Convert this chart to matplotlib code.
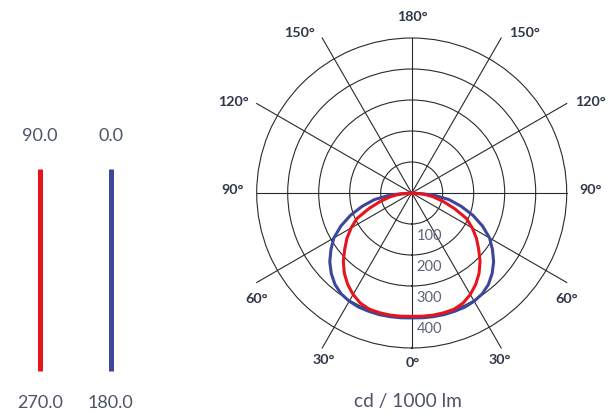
import numpy as np
import matplotlib
matplotlib.use("Agg")
import matplotlib.pyplot as plt
from matplotlib.lines import Line2D

# ---- data (cd / 1000 lm), gamma angle from nadir ----
gamma = [0, 5, 10, 15, 20, 25, 30, 35, 40, 45, 50, 55, 60, 65, 70, 75, 80, 85, 90]
c0_180 = [403, 404, 405, 406, 406, 406, 403, 397, 385, 367, 345, 318, 290, 252, 210, 165, 122, 68, 0]
c90_270 = [398, 399, 400, 400, 399, 392, 378, 360, 338, 312, 282, 255, 226, 195, 147, 105, 70, 38, 0]
r_ticks = [100, 200, 300, 400]
r_max = 500
angle_labels = ["180°", "150°", "120°", "90°", "60°", "30°", "0°"]
legend_top = ["90.0", "0.0"]
legend_bottom = ["270.0", "180.0"]
unit_label = "cd / 1000 lm"

RED = "#e5141d"
BLUE = "#3d4799"
GRID = "#2a2a2a"
DARK = "#2f3648"
GRAYTXT = "#4d5466"

W, H = 614, 414
fig = plt.figure(figsize=(W / 100, H / 100), dpi=100)
plt.rcParams['font.family'] = ['Lato', 'DejaVu Sans']

def fx(x):
    return x / W

def fy(y):
    return 1 - y / H

cx, cy, R = 411.7, 194.0, 155.0
ax = fig.add_axes([fx(cx - R), fy(cy + R), 2 * R / W, 2 * R / H], projection='polar')
ax.set_theta_zero_location('S')
ax.set_theta_direction(1)
ax.set_ylim(0, r_max)
ax.set_rgrids(r_ticks, labels=[])
ax.set_thetagrids([], labels=[])
ax.grid(True, axis='y', color=GRID, linewidth=0.8)
ax.spines['polar'].set_color(GRID)
ax.spines['polar'].set_linewidth(0.8)
ax.set_facecolor('none')

# radial lines to the bounding square
for phi in range(0, 360, 30):
    p = np.radians(phi)
    s, c = np.sin(p), np.cos(p)
    t = 0.5 / max(abs(s), abs(c))
    ax.plot([0.5, 0.5 + t * s], [0.5, 0.5 - t * c], transform=ax.transAxes,
            color=GRID, linewidth=0.8, clip_on=False, zorder=1)

g = np.radians(gamma)
th_blue = np.concatenate([-g[::-1], g])
r_blue = np.concatenate([c0_180[::-1], c0_180])
th_red = np.concatenate([-g[::-1], g])
r_red = np.concatenate([c90_270[::-1], c90_270])
ax.plot(th_blue, r_blue, color=BLUE, linewidth=2.2, zorder=3, solid_joinstyle='round')
ax.plot(th_red, r_red, color=RED, linewidth=2.2, zorder=4, solid_joinstyle='round')

for v in r_ticks:
    ax.annotate(str(v), xy=(0, v), xytext=(5, -11), textcoords='offset pixels',
                ha='left', va='center', fontsize=10.5, color="#5d6476", zorder=5)

# angle labels (pixel positions)
lab_pos = {
    "180°": [(412.7, 16.7)],
    "150°": [(299.3, 33.3), (524.0, 33.3)],
    "120°": [(233.3, 101.7), (590.0, 101.7)],
    "90°": [(232.3, 190.0), (591.0, 190.0)],
    "60°": [(256.7, 299.0), (566.7, 299.0)],
    "30°": [(323.3, 360.0), (500.0, 360.0)],
    "0°": [(413.0, 362.7)],
}
for lab in angle_labels:
    for (x, y) in lab_pos[lab]:
        fig.text(fx(x), fy(y), lab, ha='center', va='center', fontsize=10.3,
                 fontweight='bold', color=DARK)

fig.text(fx(408), fy(401.7), unit_label, ha='center', va='center', fontsize=13.8, color=GRAYTXT)

# left legend
leg_x = [40.0, 110.7]
leg_c = [RED, BLUE]
for x, col, t1, t2 in zip(leg_x, leg_c, legend_top, legend_bottom):
    fig.add_artist(Line2D([fx(x), fx(x)], [fy(169.5), fy(371.7)], color=col,
                          linewidth=3.6, solid_capstyle='butt'))
    fig.text(fx(x), fy(136), t1, ha='center', va='center', fontsize=13, color=GRAYTXT)
    fig.text(fx(x), fy(402.7), t2, ha='center', va='center', fontsize=13, color=GRAYTXT)

fig.savefig("out.png", dpi=100)
